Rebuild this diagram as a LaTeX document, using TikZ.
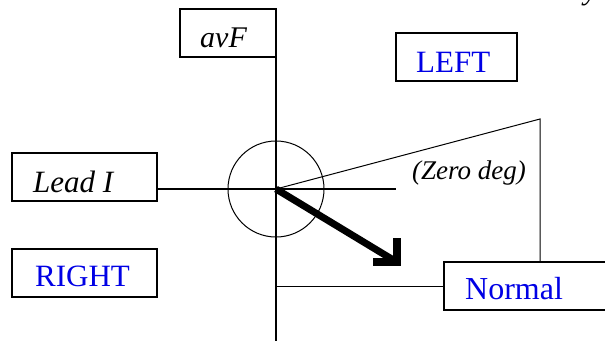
\documentclass[tikz,border=0pt]{standalone}
\usepackage{fontspec}
\setmainfont{Liberation Serif}
\begin{document}
\begin{tikzpicture}[x=1pt,y=-1pt,
  box/.style={draw,line width=2pt,minimum width=#1,minimum height=48pt,inner sep=0pt,outer sep=0pt,anchor=north west},
  lbl/.style={font=\fontsize{31}{31}\selectfont,inner sep=0pt,anchor=base west},
  blue lbl/.style={lbl,text=blue!90!black},
  axis/.style={line width=2.6pt},
  thin/.style={line width=1pt}]
\useasboundingbox (0,0) rectangle (605,341);
\clip (0,0) rectangle (605,341);
% boxes
\node[box=96pt] (avf) at (180,9) {};
\node[box=121pt] (left) at (396,33) {};
\node[box=145pt] (lead) at (12,153) {};
\node[box=145pt] (right) at (12,249) {};
\node[box=200pt] (normal) at (444,262) {};
% texts
\node[lbl,font=\fontsize{30}{30}\selectfont\itshape] (tavf) at (200,47) {avF};
\node[blue lbl] (tleft) at (416,72) {LEFT};
\node[lbl,font=\fontsize{31}{31}\selectfont\itshape] (tlead) at (33,192) {Lead I};
\node[blue lbl] (tright) at (35,286) {RIGHT};
\node[blue lbl,font=\fontsize{32}{32}\selectfont] (tnormal) at (465,299) {Normal};
\node[lbl,font=\fontsize{27}{27}\selectfont\itshape] (tzero) at (412,179) {(Zero deg)};
\node[lbl,font=\fontsize{30}{30}\selectfont\itshape] (ty) at (584,-1) {y};
% coordinates
\coordinate (O) at (276,189);
\coordinate (axtop) at (276,57);
\coordinate (axbot) at (276,341);
\coordinate (hstart) at (157,189);
\coordinate (hend) at (396,189);
\coordinate (apex) at (540,119);
\coordinate (ntop) at (540,262);
\coordinate (nleft) at (276,286);
\coordinate (nwest) at (444,286);
\coordinate (tip) at (395,261);
% axes
\draw[axis] (axtop) -- (axbot);
\draw[axis] (hstart) -- (hend);
\draw[thin] (O) circle (48);
% zero degree line
\draw[thin] (O) -- (apex) -- (ntop);
\draw[thin] (nleft) -- (nwest);
% thick arrow
\draw[line width=7pt] (O) -- (tip);
\fill (393,238) rectangle (401,266);
\fill (373,258) rectangle (401,266);
\end{tikzpicture}
\end{document}
